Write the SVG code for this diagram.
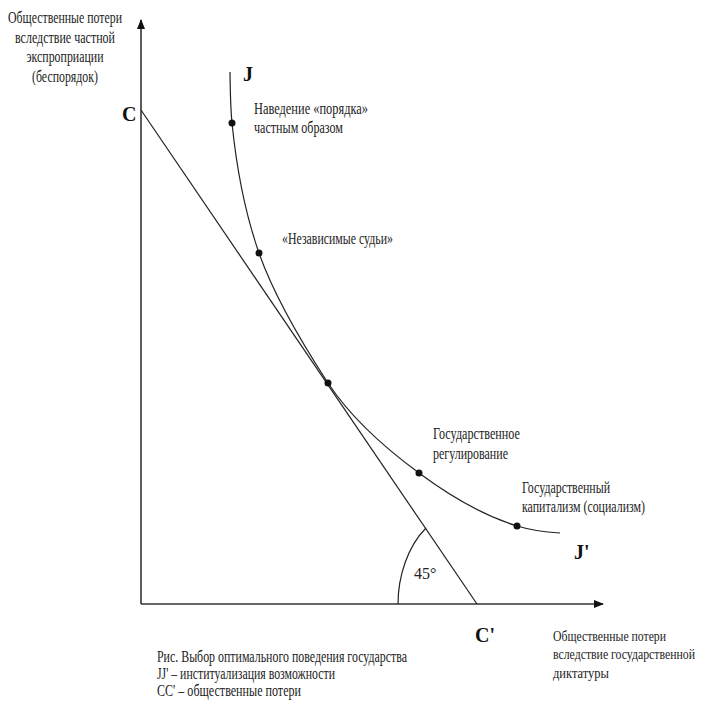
<svg xmlns="http://www.w3.org/2000/svg" width="703" height="702" viewBox="0 0 703 702">
<style>
.t{font-family:"Liberation Serif","DejaVu Serif",serif;font-size:16px;fill:#222}
.s{font-family:"Liberation Serif","DejaVu Serif",serif;font-size:15px;fill:#222}
.b{font-family:"Liberation Serif","DejaVu Serif",serif;font-size:20px;font-weight:bold;fill:#111}
.ln{fill:none;stroke:#222;stroke-width:1.2}
.ax{fill:none;stroke:#333;stroke-width:1.6}
.dot{fill:#111}
</style>
<defs>
<marker id="arr" viewBox="0 0 10 8" refX="9" refY="4" markerWidth="10" markerHeight="8" markerUnits="userSpaceOnUse" orient="auto">
<path d="M0,0 L10,4 L0,8 Z" fill="#111"/>
</marker>
</defs>
<rect width="703" height="702" fill="#fff"/>
<g id="connectors">
<line id="y-axis" class="ax" x1="141" y1="604" x2="141" y2="20" marker-end="url(#arr)"/>
<line id="x-axis" class="ax" x1="141" y1="604" x2="603" y2="604" marker-end="url(#arr)"/>
<line id="line-CC" class="ln" x1="141" y1="110" x2="477" y2="604"/>
<path id="curve-JJ" class="ln" d="M230,72 C230.3,89 230.3,106 232,123 C236.3,166 244,210 259,253 C274,296 300,340 328,383 C351,418 385,448 419,473 C448.6,495 481.6,515 517,526 C532.3,530.6 545,532 560,533"/>
<path id="angle-arc" class="ln" d="M398,604 C398,576 408,546 426,528"/>
</g>
<g id="axis-y-label">
<text class="t" x="65" y="23" text-anchor="middle" textLength="114" lengthAdjust="spacingAndGlyphs">Общественные потери</text>
<text class="t" x="65" y="43" text-anchor="middle" textLength="100" lengthAdjust="spacingAndGlyphs">вследствие частной</text>
<text class="t" x="65" y="62" text-anchor="middle" textLength="77" lengthAdjust="spacingAndGlyphs">экспроприации</text>
<text class="t" x="65" y="82" text-anchor="middle" textLength="66" lengthAdjust="spacingAndGlyphs">(беспорядок)</text>
</g>
<g id="axis-x-label">
<text class="s" x="553" y="641" textLength="113" lengthAdjust="spacingAndGlyphs">Общественные потери</text>
<text class="s" x="553" y="659" textLength="142" lengthAdjust="spacingAndGlyphs">вследствие государственной</text>
<text class="s" x="553" y="678" textLength="56" lengthAdjust="spacingAndGlyphs">диктатуры</text>
</g>
<g id="label-C"><text class="b" x="122" y="121">C</text></g>
<g id="label-C-prime"><text class="b" x="475" y="642">C'</text></g>
<g id="label-J"><text class="b" x="243" y="81">J</text></g>
<g id="label-J-prime"><text class="b" x="574" y="559">J'</text></g>
<g id="point-private-order">
<circle class="dot" cx="232" cy="123" r="3.5"/>
<text class="t" x="254" y="114" textLength="114" lengthAdjust="spacingAndGlyphs">Наведение «порядка»</text>
<text class="t" x="254" y="133" textLength="89" lengthAdjust="spacingAndGlyphs">частным образом</text>
</g>
<g id="point-judges">
<circle class="dot" cx="259" cy="253" r="3.5"/>
<text class="t" x="282" y="244" textLength="111" lengthAdjust="spacingAndGlyphs">«Независимые судьи»</text>
</g>
<g id="point-optimum">
<circle class="dot" cx="328" cy="383" r="3.5"/>
</g>
<g id="point-regulation">
<circle class="dot" cx="419" cy="473" r="3.5"/>
<text class="t" x="433" y="439" textLength="87" lengthAdjust="spacingAndGlyphs">Государственное</text>
<text class="t" x="433" y="459" textLength="75" lengthAdjust="spacingAndGlyphs">регулирование</text>
</g>
<g id="point-capitalism">
<circle class="dot" cx="517" cy="526" r="3.5"/>
<text class="t" x="522" y="493" textLength="88" lengthAdjust="spacingAndGlyphs">Государственный</text>
<text class="t" x="522" y="512" textLength="123" lengthAdjust="spacingAndGlyphs">капитализм (социализм)</text>
</g>
<g id="angle-label"><text class="t" x="414" y="579">45°</text></g>
<g id="caption">
<text class="t" x="157" y="662" textLength="250" lengthAdjust="spacingAndGlyphs">Рис. Выбор оптимального поведения государства</text>
<text class="t" x="157" y="679" textLength="178" lengthAdjust="spacingAndGlyphs">JJ' – институализация возможности</text>
<text class="t" x="157" y="696" textLength="144" lengthAdjust="spacingAndGlyphs">CC' – общественные потери</text>
</g>
</svg>
